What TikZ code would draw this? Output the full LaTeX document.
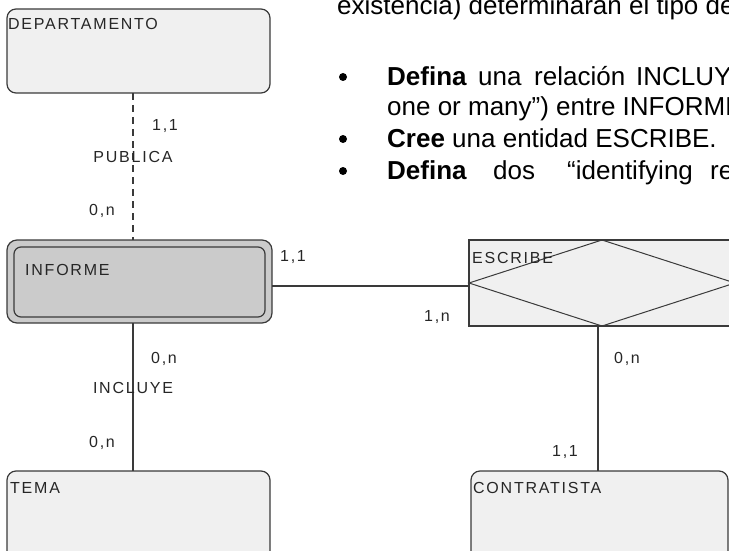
\documentclass[tikz,border=0pt]{standalone}
\usepackage{fontspec}
\setmainfont{Liberation Sans}
\newfontfamily\lblfont[LetterSpace=11]{Liberation Sans}
\definecolor{edge}{HTML}{3A3A3A}
\definecolor{entfill}{HTML}{F0F0F0}
\definecolor{weakfill}{HTML}{CBCBCB}
\tikzset{
  ent/.style={draw=edge, fill=entfill, line width=1.2pt, rounded corners=9pt,
    inner sep=0pt, outer sep=0pt, rectangle},
  weakout/.style={draw=edge, fill=weakfill, line width=1.2pt, rounded corners=10pt,
    inner sep=0pt, outer sep=0pt, rectangle},
  weakin/.style={draw=edge, fill=weakfill, line width=1.2pt, rounded corners=7pt,
    inner sep=0pt, outer sep=0pt, rectangle},
  relbox/.style={draw=edge, fill=entfill, line width=1.2pt, inner sep=0pt,
    outer sep=0pt, rectangle},
  conn/.style={draw=edge, line width=1.3pt},
  dconn/.style={draw=edge, line width=1.3pt, dash pattern=on 7pt off 5pt},
  lbl/.style={inner sep=0pt, font=\lblfont\fontsize{16}{18}\selectfont, text=black!85},
  body/.style={inner sep=0pt, anchor=base west, font=\fontsize{26}{30}\selectfont},
  bodyb/.style={inner sep=0pt, anchor=base west, font=\fontsize{26}{30}\selectfont\bfseries},
}
\begin{document}
\begin{tikzpicture}[x=1pt,y=-1pt]
\useasboundingbox (0,0) rectangle (729,551);
\clip (0,0) rectangle (729,551);

% entities
\node[ent, minimum width=263pt, minimum height=84pt] (dep) at (138.5,51) {};
\node[weakout, minimum width=265pt, minimum height=83pt] (inf) at (139.5,281.5) {};
\node[weakin, minimum width=251pt, minimum height=70pt] (infin) at (139.5,282) {};
\node[ent, minimum width=263pt, minimum height=100pt] (tema) at (138.5,521) {};
\node[ent, minimum width=257pt, minimum height=100pt] (con) at (599.5,521) {};
\node[relbox, minimum width=266pt, minimum height=86pt] (esc) at (602,283) {};
\draw[draw=edge, line width=1pt] (esc.west) -- (esc.north) -- (esc.east) -- (esc.south) -- cycle;

% entity labels
\node[lbl, anchor=base west] (tdep) at (8,30) {DEPARTAMENTO};
\node[lbl, anchor=base west] (tinf) at (25,275) {INFORME};
\node[lbl, anchor=base west] (ttema) at (10,493) {TEMA};
\node[lbl, anchor=base west] (tcon) at (473,493) {CONTRATISTA};
\node[lbl, anchor=base west] (tesc) at (472,263) {ESCRIBE};

% connectors
\coordinate (cx1) at (133,0);
\coordinate (cx2) at (598,0);
\coordinate (hy) at (0,286);
\draw[dconn] (dep.south -| cx1) -- (inf.north -| cx1);
\draw[conn] (inf.south -| cx1) -- (tema.north -| cx1);
\draw[conn] (inf.east |- hy) -- (esc.west |- hy);
\draw[conn] (esc.south -| cx2) -- (con.north -| cx2);

% relationship / cardinality labels
\node[lbl, anchor=base] (c1) at (165,131) {1,1};
\node[lbl, anchor=base] (rpub) at (133,162) {PUBLICA};
\node[lbl, anchor=base] (c2) at (102,215) {0,n};
\node[lbl, anchor=base] (c3) at (293,261) {1,1};
\node[lbl, anchor=base] (c4) at (437,321) {1,n};
\node[lbl, anchor=base] (c5) at (164,363) {0,n};
\node[lbl, anchor=base] (rinc) at (133,393) {INCLUYE};
\node[lbl, anchor=base] (c6) at (102,447) {0,n};
\node[lbl, anchor=base] (c7) at (627,363) {0,n};
\node[lbl, anchor=base] (c8) at (565,456) {1,1};

% body text
\node[body] (l0) at (337,15) {existencia) determinarán el tipo de};
\fill (343,77) circle (4pt);
\fill (343,139) circle (4pt);
\fill (343,171) circle (4pt);
\node[bodyb] (l1a) at (387,85) {Defina};
\node[body] (l1b) at (478,85) {una};
\node[body] (l1c) at (534,85) {relación};
\node[body] (l1d) at (636,85) {INCLUYE};
\node[body] (l2) at (387,115) {one or many”) entre INFORME};
\node[body] (l3) at (387,147) {\textbf{Cree} una entidad ESCRIBE.};
\node[bodyb] (l4a) at (387,179) {Defina};
\node[body] (l4b) at (493,179) {dos};
\node[body] (l4c) at (567,179) {“identifying};
\node[body] (l4d) at (710,179) {relationships};
\end{tikzpicture}
\end{document}
